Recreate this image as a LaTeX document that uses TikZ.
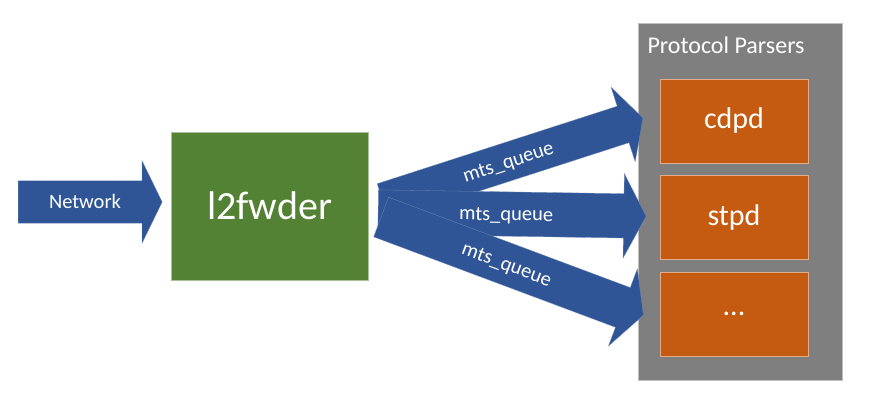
\documentclass[tikz,border=0pt]{standalone}
\usepackage{fontspec}
\setmainfont{Carlito}
\usetikzlibrary{shapes.arrows}
\definecolor{flowblue}{HTML}{2F5597}
\definecolor{fwdgreen}{HTML}{548235}
\definecolor{parsergray}{HTML}{7F7F7F}
\definecolor{daemonorange}{HTML}{C55A11}

\begin{document}
\begin{tikzpicture}[x=1pt, y=-1pt,
  flow/.style={single arrow, fill=flowblue, draw=flowblue!70!white, line width=0.3pt,
    text=white, font=\fontsize{20.5}{24}\selectfont, anchor=tail,
    text height=15.5pt, text depth=2.5pt, inner xsep=0pt, inner ysep=12pt,
    single arrow head extend=20pt, single arrow tip angle=124},
  daemon/.style={rectangle, fill=daemonorange, draw=daemonorange!50!white, line width=0.5pt,
    text=white, font=\fontsize{30}{36}\selectfont, minimum width=148pt, minimum height=84pt}]
\useasboundingbox (0,0) rectangle (872,403);

% forwarder and parsers
\node [rectangle, fill=fwdgreen, draw=fwdgreen!50!white, line width=0.5pt, text=white,
  font=\fontsize{40}{48}\selectfont, minimum width=197pt, minimum height=148pt]
  (l2f) at (269.5,206) {l2fwder};
\node [rectangle, fill=parsergray, draw=parsergray!50!white, line width=0.5pt,
  minimum width=204pt, minimum height=357pt] (parsers) at (740,201.5) {};
\node [anchor=west, text=white, font=\fontsize{24}{28}\selectfont] (title) at (644,45) {Protocol Parsers};
\node [daemon] (cdpd) at (734,121) {cdpd};
\node [daemon] (stpd) at (734,217.5) {stpd};
\node [daemon] (more) at (734,314) {...};

% arrows
\node [flow, minimum height=144pt, single arrow tip angle=128] (net) at (18,202) {Network};
\node [flow, rotate=17.9, minimum height=273pt, inner ysep=10pt] (qcdpd) at (383,202) {mts\_queue};
\node [flow, rotate=-0.9, minimum height=268pt, inner ysep=13pt] (qstpd) at (378,212) {mts\_queue};
\node [flow, rotate=-20.5, minimum height=280pt] (qmore) at (381,217) {mts\_queue};
\end{tikzpicture}
\end{document}
